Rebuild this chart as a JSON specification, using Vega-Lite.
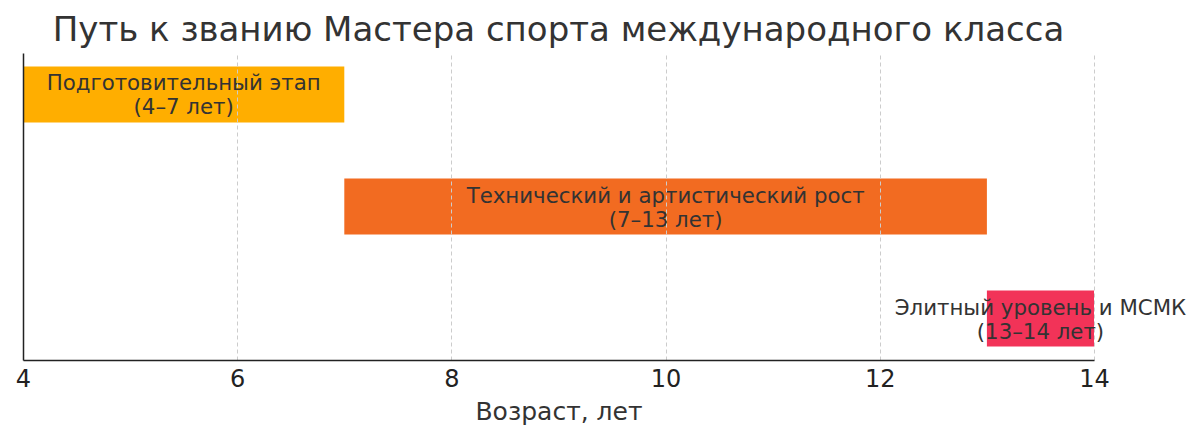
{
  "$schema": "https://vega.github.io/schema/vega-lite/v6.json",
  "autosize": {"type": "none"},
  "width": 1071,
  "height": 307,
  "padding": {"left": 23, "top": 53, "right": 106, "bottom": 83},
  "background": "white",
  "config": {
    "font": "DejaVu Sans",
    "view": {"stroke": null}
  },
  "title": {
    "text": "Путь к званию Мастера спорта международного класса",
    "fontSize": 34,
    "fontWeight": "normal",
    "color": "#333333",
    "anchor": "middle",
    "offset": 5,
    "font": "DejaVu Sans"
  },
  "data": {
    "values": [
      {"stage": "Подготовительный этап", "start": 4, "end": 7, "mid": 5.5, "label": ["Подготовительный этап", "(4–7 лет)"]},
      {"stage": "Технический и артистический рост", "start": 7, "end": 13, "mid": 10, "label": ["Технический и артистический рост", "(7–13 лет)"]},
      {"stage": "Элитный уровень и МСМК", "start": 13, "end": 14, "mid": 13.5, "label": ["Элитный уровень и МСМК", "(13–14 лет)"]}
    ]
  },
  "encoding": {
    "y": {
      "field": "stage",
      "type": "nominal",
      "sort": null,
      "scale": {"paddingInner": 0.5, "paddingOuter": 0.12},
      "axis": {"labels": false, "ticks": false, "title": null, "domain": true, "domainColor": "#222222", "domainWidth": 1.5, "grid": false, "zindex": 2}
    }
  },
  "layer": [
    {
      "mark": {"type": "bar", "cornerRadius": 0},
      "encoding": {
        "x": {
          "field": "start",
          "type": "quantitative",
          "scale": {"domain": [4, 14], "nice": false, "zero": false},
          "axis": {
            "values": [4, 6, 8, 10, 12, 14],
            "format": "d",
            "labelFlush": false,
            "title": "Возраст, лет",
            "titleFontSize": 25,
            "titleFontWeight": "normal",
            "titleColor": "#333333",
            "titlePadding": 8,
            "labelFontSize": 24,
            "labelColor": "#222222",
            "labelPadding": 7,
            "ticks": false,
            "domainColor": "#222222",
            "domainWidth": 1.5,
            "grid": true,
            "gridDash": [4, 3],
            "gridColor": "#cccccc",
            "gridWidth": 1,
            "zindex": 1
          }
        },
        "x2": {"field": "end"},
        "color": {
          "field": "stage",
          "type": "nominal",
          "sort": null,
          "scale": {"range": ["#FFAE00", "#F26B21", "#F23358"]},
          "legend": null
        }
      }
    },
    {
      "mark": {"type": "text", "fontSize": 21.3, "lineHeight": 24, "dy": -10, "color": "#333333", "align": "center", "baseline": "middle", "font": "DejaVu Sans"},
      "encoding": {
        "x": {"field": "mid", "type": "quantitative"},
        "text": {"field": "label"}
      }
    }
  ]
}
